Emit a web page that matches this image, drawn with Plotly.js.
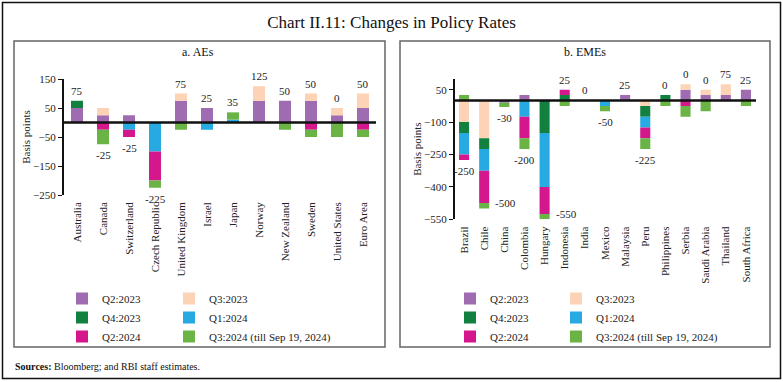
<!DOCTYPE html>
<html><head><meta charset="utf-8">
<script src="https://cdn.plot.ly/plotly-3.0.1.min.js"></script>
<style>html,body{margin:0;padding:0;background:#fff}#chart{width:783px;height:382px}</style>
</head><body><div id="chart"></div>
<script>
// ---- Data (basis points) ----
const quarters = ['Q2:2023','Q3:2023','Q4:2023','Q1:2024','Q2:2024','Q3:2024 (till Sep 19, 2024)'];
const colors = ['#9f6cb1','#fcd3b4','#12803f','#27aae1','#d4178c','#6ab446'];

const aeCountries = ['Australia','Canada','Switzerland','Czech Republic','United Kingdom','Israel','Japan','Norway','New Zealand','Sweden','United States','Euro Area'];
const aeQ2_2023 = [50,25,25,0,75,50,0,75,75,75,25,50];
const aeQ3_2023 = [0,25,0,0,25,0,0,50,0,25,25,50];
const aeQ4_2023 = [25,0,0,0,0,0,0,0,0,0,0,0];
const aeQ1_2024 = [0,0,-25,-100,0,-25,10,0,0,0,0,0];
const aeQ2_2024 = [0,-25,-25,-100,0,0,0,0,0,-25,0,-25];
const aeQ3_2024 = [0,-50,0,-25,-25,0,25,0,-25,-25,-50,-25];
const aeLabelPos = ['above','below','below','below','above','above','above','above','above','above','above','above'];

const emeCountries = ['Brazil','Chile','China','Colombia','Hungary','Indonesia','India','Mexico','Malaysia','Peru','Philippines','Serbia','Saudi Arabia','Thailand','South Africa'];
const emeQ2_2023 = [0,0,-10,25,0,0,0,0,25,0,0,50,25,25,50];
const emeQ3_2023 = [-100,-175,0,0,0,0,0,0,0,-25,0,25,25,50,0];
const emeQ4_2023 = [-50,-50,0,0,-150,25,0,0,0,-50,25,0,0,0,0];
const emeQ1_2024 = [-100,-100,0,-75,-250,0,0,-25,0,-50,0,0,0,0,0];
const emeQ2_2024 = [-25,-150,0,-100,-125,25,0,0,0,-50,0,-25,0,0,0];
const emeQ3_2024 = [25,-25,-20,-50,-25,-25,0,-25,0,-50,-25,-50,-50,0,-25];
const emeLabelPos = ['below','right','below','below','right','above','above','below','above','below','above','above','above','above','above'];

const aeSeries = [aeQ2_2023,aeQ3_2023,aeQ4_2023,aeQ1_2024,aeQ2_2024,aeQ3_2024];
const emeSeries = [emeQ2_2023,emeQ3_2023,emeQ4_2023,emeQ1_2024,emeQ2_2024,emeQ3_2024];

const W = 783, H = 382;
const px = v => v / W;
const py = v => 1 - v / H;
const FONT = 'Liberation Serif, DejaVu Serif, serif';

const traces = [];
const legendFor = (panel, i) => {
  const col = i % 2;
  if (panel === 0) return col === 0 ? 'legend' : 'legend2';
  return col === 0 ? 'legend3' : 'legend4';
};
[aeSeries, emeSeries].forEach((series, p) => {
  const cats = p === 0 ? aeCountries : emeCountries;
  series.forEach((vals, i) => {
    traces.push({
      type: 'bar', x: cats, y: vals, name: quarters[i],
      marker: {color: colors[i], line: {width: 0}},
      width: p === 0 ? 0.46 : 0.5,
      xaxis: p === 0 ? 'x' : 'x2', yaxis: p === 0 ? 'y' : 'y2',
      legend: legendFor(p, i), hoverinfo: 'skip'
    });
  });
});

const annotations = [];
function addTotals(cats, series, pos, xref, yref) {
  cats.forEach((c, k) => {
    let pSum = 0, nSum = 0;
    series.forEach(s => { if (s[k] > 0) pSum += s[k]; else nSum += s[k]; });
    const total = pSum + nSum;
    const a = {x: c, xref, yref, text: String(total), showarrow: false,
      font: {family: FONT, size: 11, color: '#222'}};
    if (pos[k] === 'above') { a.y = pSum; a.yanchor = 'bottom'; a.yshift = 2; }
    else if (pos[k] === 'below') { a.y = nSum; a.yanchor = 'top'; a.yshift = -3; }
    else { a.y = nSum; a.yanchor = 'middle'; a.xanchor = 'left'; a.xshift = 9; a.yshift = 5; }
    annotations.push(a);
  });
}
addTotals(aeCountries, aeSeries, aeLabelPos, 'x', 'y');
addTotals(emeCountries, emeSeries, emeLabelPos, 'x2', 'y2');

annotations.push(
  {text: 'a. AEs', x: px(198), y: py(52), xref: 'paper', yref: 'paper', showarrow: false,
   font: {family: FONT, size: 12, color: '#111'}, xanchor: 'center', yanchor: 'middle'},
  {text: 'b. EMEs', x: px(585), y: py(52), xref: 'paper', yref: 'paper', showarrow: false,
   font: {family: FONT, size: 12, color: '#111'}, xanchor: 'center', yanchor: 'middle'},
  {text: '<b>Sources:</b> Bloomberg; and RBI staff estimates.', x: px(13), y: py(366), xref: 'paper', yref: 'paper',
   showarrow: false, xanchor: 'left', yanchor: 'middle', font: {family: FONT, size: 10, color: '#111'}}
);

const shapes = [
  {type: 'rect', xref: 'paper', yref: 'paper', x0: px(2.5), x1: px(780.5), y0: py(378.5), y1: py(2.5), line: {color: '#111', width: 1.5}},
  {type: 'rect', xref: 'paper', yref: 'paper', x0: px(14), x1: px(385), y0: py(347), y1: py(41), line: {color: '#666', width: 1.5}},
  {type: 'rect', xref: 'paper', yref: 'paper', x0: px(400), x1: px(770), y0: py(347), y1: py(41), line: {color: '#666', width: 1.5}},
  {type: 'line', xref: 'x domain', yref: 'y', x0: 0, x1: 1, y0: 0, y1: 0, line: {color: '#111', width: 2.5}, layer: 'above'},
  {type: 'line', xref: 'x2 domain', yref: 'y2', x0: 0, x1: 1, y0: 0, y1: 0, line: {color: '#111', width: 2.5}, layer: 'above'}
];

const yCommon = {
  showline: true, linecolor: '#111', linewidth: 2, ticks: 'outside', ticklen: 4, tickcolor: '#111',
  showgrid: false, zeroline: false, tickfont: {family: FONT, size: 11, color: '#222'},
  title: {text: 'Basis points', font: {family: FONT, size: 11, color: '#222'}, standoff: 0}
};
const xCommon = {
  showline: false, ticks: '', showgrid: false, zeroline: false, tickangle: -90, type: 'category',
  tickfont: {family: FONT, size: 11, color: '#222'}, ticklabelstandoff: 4
};
const legendCommon = {orientation: 'v', xanchor: 'left', yanchor: 'top', bgcolor: 'rgba(0,0,0,0)',
  font: {family: FONT, size: 11, color: '#222'}, traceorder: 'normal', borderwidth: 0, itemclick: false, itemdoubleclick: false};

const layout = {
  width: W, height: H, margin: {l: 0, r: 0, t: 0, b: 0},
  paper_bgcolor: '#fff', plot_bgcolor: 'rgba(0,0,0,0)',
  title: {text: 'Chart II.11: Changes in Policy Rates', x: 0.5, xanchor: 'center', y: py(22), yanchor: 'middle',
          font: {family: FONT, size: 17, color: '#111'}},
  barmode: 'relative', bargap: 0.5,
  showlegend: true,
  xaxis: Object.assign({}, xCommon, {domain: [px(64), px(376)], anchor: 'y', range: [-0.5, 11.5]}),
  yaxis: Object.assign({}, yCommon, {domain: [py(195), py(79)], anchor: 'x', range: [-250, 150], tick0: -250, dtick: 100}),
  xaxis2: Object.assign({}, xCommon, {domain: [px(455), px(756)], anchor: 'y2', range: [-0.45, 14.5]}),
  yaxis2: Object.assign({}, yCommon, {domain: [py(219.3), py(78.9)], anchor: 'x2', range: [-550, 100], tick0: -550, dtick: 150}),
  legend: Object.assign({}, legendCommon, {x: px(62), y: py(284)}),
  legend2: Object.assign({}, legendCommon, {x: px(169), y: py(284)}),
  legend3: Object.assign({}, legendCommon, {x: px(450), y: py(284)}),
  legend4: Object.assign({}, legendCommon, {x: px(556), y: py(284)}),
  annotations, shapes
};

Plotly.newPlot('chart', traces, layout, {displayModeBar: false, staticPlot: true});
</script>
</body></html>
